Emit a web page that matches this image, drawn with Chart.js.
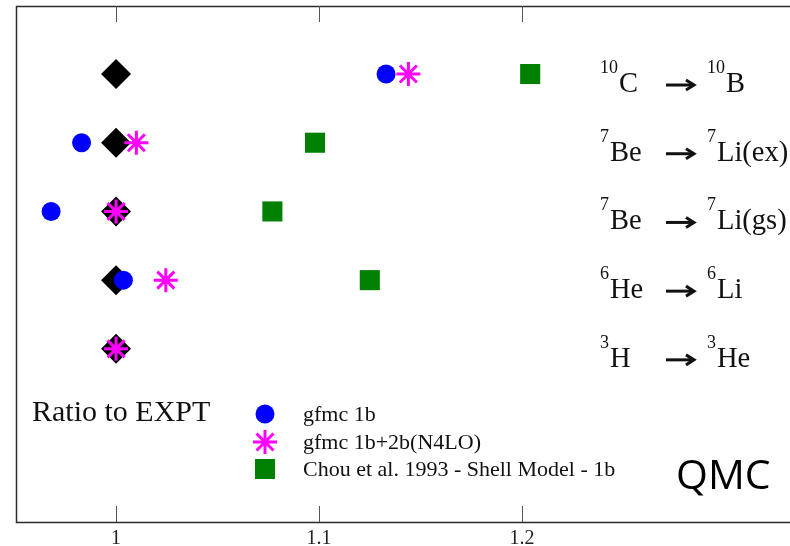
<!DOCTYPE html>
<html>
<head>
<meta charset="utf-8">
<script src="https://cdn.jsdelivr.net/npm/chart.js@4/dist/chart.umd.min.js"></script>
<style>
  html, body { margin: 0; padding: 0; background: #ffffff; overflow: hidden; }
  #c { display: block; }
</style>
</head>
<body>
<canvas id="c" width="790" height="546"></canvas>
<script>
// ---- data ----
const rowY          = [1, 2, 3, 4, 5];
const rowLeftSup    = ['3', '6', '7', '7', '10'];
const rowLeftMain   = ['H', 'He', 'Be', 'Be', 'C'];
const rowRightSup   = ['3', '6', '7', '7', '10'];
const rowRightMain  = ['He', 'Li', 'Li(gs)', 'Li(ex)', 'B'];

const exptRatio     = [1.000, 1.000, 1.000, 1.000, 1.000];
const gfmc1b        = [null,  1.0036, 0.968, 0.983, 1.133];
const gfmc1b2b      = [1.000, 1.0245, 1.000, 1.010, 1.144];
const chouShell     = [null,  1.125, 1.077, 1.098, 1.204];

const xTicks        = [1, 1.1, 1.2];
const legendLabels  = ['gfmc 1b', 'gfmc 1b+2b(N4LO)', 'Chou et al. 1993 - Shell Model - 1b'];
const sideLabel     = 'Ratio to EXPT';
const cornerLabel   = 'QMC';

const toPts = arr => arr.map((v, i) => v === null ? null : { x: v, y: rowY[i] }).filter(p => p);

const SERIF = '"Liberation Serif", "DejaVu Serif", serif';

const framePlugin = {
  id: 'frame',
  beforeDatasetsDraw(chart) {
    const { ctx, chartArea: a, scales } = chart;
    ctx.save();
    ctx.strokeStyle = '#2a2a2a';
    ctx.lineWidth = 1.5;
    ctx.beginPath();
    ctx.moveTo(a.right + 5, a.top + 0.5);
    ctx.lineTo(a.left + 0.5, a.top + 0.5);
    ctx.lineTo(a.left + 0.5, a.bottom + 0.5);
    ctx.lineTo(a.right + 5, a.bottom + 0.5);
    ctx.stroke();
    // inward ticks (top and bottom)
    ctx.strokeStyle = '#555';
    ctx.lineWidth = 1;
    xTicks.forEach(v => {
      const px = Math.round(scales.x.getPixelForValue(v)) + 0.5;
      ctx.beginPath();
      ctx.moveTo(px, a.bottom);
      ctx.lineTo(px, a.bottom - 16);
      ctx.moveTo(px, a.top);
      ctx.lineTo(px, a.top + 16);
      ctx.stroke();
    });
    ctx.restore();
  },
  afterDraw(chart) {
    const { ctx, scales } = chart;
    ctx.save();
    ctx.fillStyle = '#111';
    ctx.textBaseline = 'alphabetic';
    ctx.textAlign = 'left';
    // row labels
    rowY.forEach((rv, i) => {
      const y = scales.y.getPixelForValue(rv);
      const base = y + 18;
      ctx.font = '18px ' + SERIF;
      ctx.fillText(rowLeftSup[i], 600, base - 19);
      const supW = ctx.measureText(rowLeftSup[i]).width;
      ctx.font = '28.5px ' + SERIF;
      ctx.fillText(rowLeftMain[i], 600 + supW + 1, base);
      // arrow
      const ay = base - 7;
      ctx.strokeStyle = '#111';
      ctx.lineWidth = 3;
      ctx.lineCap = 'butt';
      ctx.beginPath();
      ctx.moveTo(666, ay);
      ctx.lineTo(692, ay);
      ctx.stroke();
      ctx.beginPath();
      ctx.moveTo(686, ay - 5);
      ctx.lineTo(694, ay);
      ctx.lineTo(686, ay + 5);
      ctx.stroke();
      ctx.font = '18px ' + SERIF;
      ctx.fillText(rowRightSup[i], 707, base - 19);
      const supW2 = ctx.measureText(rowRightSup[i]).width;
      ctx.font = '28.5px ' + SERIF;
      ctx.fillText(rowRightMain[i], 707 + supW2 + 1, base);
    });
    // side label
    ctx.font = '30px ' + SERIF;
    ctx.fillText(sideLabel, 32, 421);
    // legend
    const lx = 265, ly = [414, 442, 469];
    ctx.fillStyle = '#0000ff';
    ctx.beginPath(); ctx.arc(lx, ly[0], 9.5, 0, Math.PI * 2); ctx.fill();
    ctx.strokeStyle = '#ff00ff'; ctx.lineWidth = 3;
    ctx.beginPath();
    for (let k = 0; k < 4; k++) {
      const ang = k * Math.PI / 4;
      const r = 12;
      ctx.moveTo(lx - r * Math.sin(ang), ly[1] - r * Math.cos(ang));
      ctx.lineTo(lx + r * Math.sin(ang), ly[1] + r * Math.cos(ang));
    }
    ctx.stroke();
    ctx.fillStyle = '#008000';
    ctx.fillRect(lx - 10, ly[2] - 10, 20, 20);
    ctx.fillStyle = '#111';
    ctx.font = '22px ' + SERIF;
    legendLabels.forEach((t, i) => ctx.fillText(t, 303, ly[i] + 7));
    // corner label
    ctx.font = '41px "Open Sans", sans-serif';
    ctx.fillStyle = '#000';
    ctx.fillText(cornerLabel, 676, 489);
    ctx.restore();
  }
};

new Chart(document.getElementById('c'), {
  type: 'scatter',
  data: {
    datasets: [
      { label: 'EXPT', data: toPts(exptRatio), pointStyle: 'rectRot', pointRadius: 15, backgroundColor: '#000', borderColor: '#000', borderWidth: 0, order: 4 },
      { label: legendLabels[2], data: toPts(chouShell), pointStyle: 'rect', pointRadius: 14.2, backgroundColor: '#008000', borderColor: '#008000', borderWidth: 0, order: 3 },
      { label: legendLabels[0], data: toPts(gfmc1b), pointStyle: 'circle', pointRadius: 9.5, backgroundColor: '#0000ff', borderColor: '#0000ff', borderWidth: 0, order: 2 },
      { label: legendLabels[1], data: toPts(gfmc1b2b), pointStyle: 'star', pointRadius: 12, backgroundColor: '#ff00ff', borderColor: '#ff00ff', borderWidth: 3, order: 1 }
    ]
  },
  options: {
    responsive: false,
    animation: false,
    events: [],
    layout: { autoPadding: false, padding: { left: 16, top: 6, right: 0, bottom: 0 } },
    plugins: { legend: { display: false }, tooltip: { enabled: false } },
    scales: {
      x: {
        type: 'linear',
        position: 'bottom',
        min: 0.9507,
        max: 1.332,
        afterBuildTicks: s => { s.ticks = xTicks.map(v => ({ value: v })); },
        afterFit: s => { s.height = 24; },
        grid: { display: false, drawTicks: false },
        border: { display: false },
        ticks: {
          padding: 5,
          color: '#222',
          font: { family: SERIF, size: 20 },
          callback: v => String(Math.round(v * 10) / 10)
        }
      },
      y: {
        type: 'linear',
        display: false,
        min: -1.52,
        max: 5.99
      }
    }
  },
  plugins: [framePlugin]
});
</script>
</body>
</html>
